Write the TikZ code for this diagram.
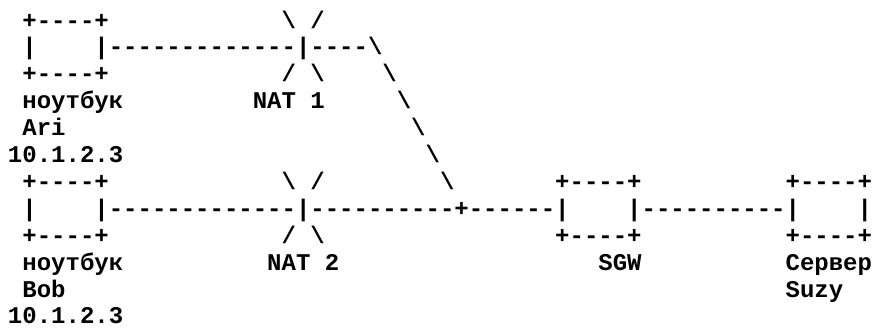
\documentclass[tikz,border=0pt]{standalone}
\usepackage{fontspec}
\setmonofont{Liberation Mono}
\newcommand\bsl{\textbackslash}
\tikzset{
  ascii/.style={anchor=base west, inner sep=0pt, outer sep=0pt,
    font=\ttfamily\bfseries\fontsize{12pt}{13.5pt}\selectfont}
}
\begin{document}
\begin{tikzpicture}
\fill[white] (0,0) rectangle (436pt,-163.5pt);
\useasboundingbox (0,0) rectangle (436pt,-163.5pt);
\begin{scope}[x=7.2pt,y=-13.45pt,shift={(4pt,-14pt)}]
% line 1
\node[ascii] (ariTop)   at (1,0) {+----+};
\node[ascii] (nat1Top)  at (19,0) {\bsl{} /};
% line 2
\node[ascii] (ariL)     at (1,1) {|};
\node[ascii] (ariLink)  at (6,1) {|-------------|----\bsl};
% line 3
\node[ascii] (ariBot)   at (1,2) {+----+};
\node[ascii] (nat1Bot)  at (19,2) {/ \bsl};
\node[ascii] (diagA)    at (26,2) {\bsl};
% line 4
\node[ascii] (ariName)  at (1,3) {ноутбук};
\node[ascii] (nat1)     at (17,3) {NAT 1};
\node[ascii] (diagB)    at (27,3) {\bsl};
% line 5
\node[ascii] (ari)      at (1,4) {Ari};
\node[ascii] (diagC)    at (28,4) {\bsl};
% line 6
\node[ascii] (ariIp)    at (0,5) {10.1.2.3};
\node[ascii] (diagD)    at (29,5) {\bsl};
% line 7
\node[ascii] (bobTop)   at (1,6) {+----+};
\node[ascii] (nat2Top)  at (19,6) {\bsl{} /};
\node[ascii] (diagE)    at (30,6) {\bsl};
\node[ascii] (sgwTop)   at (38,6) {+----+};
\node[ascii] (suzyTop)  at (54,6) {+----+};
% line 8
\node[ascii] (bobL)     at (1,7) {|};
\node[ascii] (bobLink)  at (6,7) {|-------------|----------+------|};
\node[ascii] (sgwLink)  at (43,7) {|----------|};
\node[ascii] (suzyR)    at (59,7) {|};
% line 9
\node[ascii] (bobBot)   at (1,8) {+----+};
\node[ascii] (nat2Bot)  at (19,8) {/ \bsl};
\node[ascii] (sgwBot)   at (38,8) {+----+};
\node[ascii] (suzyBot)  at (54,8) {+----+};
% line 10
\node[ascii] (bobName)  at (1,9) {ноутбук};
\node[ascii] (nat2)     at (18,9) {NAT 2};
\node[ascii] (sgw)      at (41,9) {SGW};
\node[ascii] (suzyName) at (54,9) {Сервер};
% line 11
\node[ascii] (bob)      at (1,10) {Bob};
\node[ascii] (suzy)     at (54,10) {Suzy};
% line 12
\node[ascii] (bobIp)    at (0,11) {10.1.2.3};
\end{scope}
\end{tikzpicture}
\end{document}
